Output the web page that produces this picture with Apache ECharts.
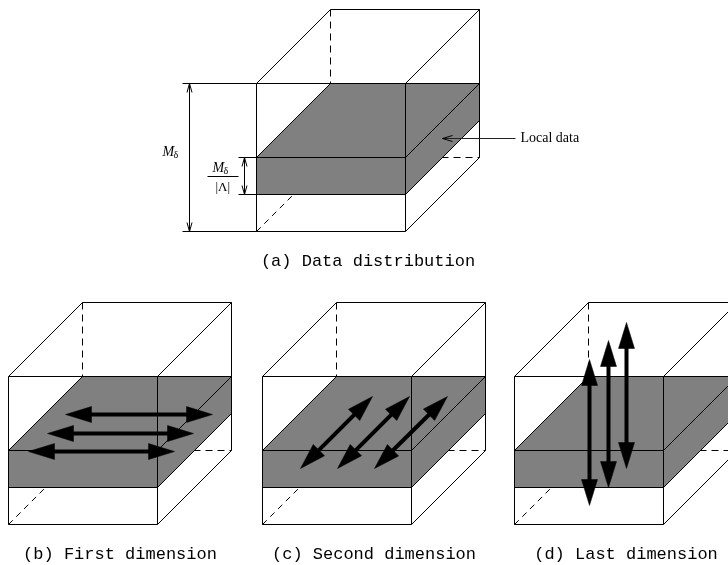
<!DOCTYPE html>
<html>
<head>
<meta charset="utf-8">
<script src="https://cdn.jsdelivr.net/npm/echarts@6/dist/echarts.min.js"></script>
<style>html,body{margin:0;padding:0;background:#fff}#main{width:728px;height:565px}</style>
</head>
<body>
<div id="main"></div>
<script>
// ---- data ----
const panelLabels = ['(a) Data distribution', '(b) First dimension', '(c) Second dimension', '(d) Last dimension'];
// front-top-left corner of each cube (page units)
const cubeCornersX = [256, 8, 262, 514];
const cubeCornersY = [83, 376, 376, 376];
// double-headed arrows [x1, y1, x2, y2]
const arrowsFirst = [[65, 414, 212, 414], [47, 433, 193, 433], [28, 451, 174, 451]];
const arrowsSecond = [[300, 468, 372, 396], [337, 468, 409, 396], [374, 468, 447, 396]];
const arrowsLast = [[589, 505, 589, 359], [608, 487, 608, 340], [626, 468, 626, 322]];
// dimension arrows (open heads, both ends) [x1,y1,x2,y2]
const dimArrows = [[189, 83, 189, 231], [244, 157, 244, 194]];
const extLines = [[182, 83, 256, 83], [182, 231, 256, 231], [238, 157, 256, 157], [238, 194, 256, 194]];
const pointer = [[515, 138, 442, 138]];

// ---- geometry constants ----
const W = 149, H = 148, D = 74, T = 37;
const GRAY = '#808080';

const cubeData = cubeCornersX.map((x, i) => [x, cubeCornersY[i], i]);
const thickArrows = arrowsFirst.concat(arrowsSecond, arrowsLast);

function mk(api) {
  return function (x, y) { const p = api.coord([x, y]); return [p[0] + 0.5, p[1] + 0.5]; };
}
function ln(P, a, b, c, d, style) {
  const p = P(a, b), q = P(c, d);
  return { type: 'line', shape: { x1: p[0], y1: p[1], x2: q[0], y2: q[1] }, style: Object.assign({ stroke: '#000', lineWidth: 1, fill: null }, style || {}) };
}
function poly(P, pts, style) {
  return { type: 'polygon', shape: { points: pts.map(p => P(p[0], p[1])) }, style: Object.assign({ stroke: '#000', lineWidth: 1 }, style || {}) };
}

function renderCube(params, api) {
  const P = mk(api);
  const fx = api.value(0), fy = api.value(1), idx = api.value(2);
  const dash = { lineDash: [7, 5] };
  const ch = [];
  ch.push(ln(P, fx + D, fy - D, fx + D, fy, dash));
  ch.push(ln(P, fx + W, fy + H - D, fx + W + D, fy + H - D, dash));
  ch.push(ln(P, fx, fy + H, fx + D, fy + H - D, { lineDash: [6, 5] }));
  // slab
  ch.push(poly(P, [[fx, fy + D], [fx + W, fy + D], [fx + W + D, fy], [fx + D, fy]], { fill: GRAY }));
  ch.push(poly(P, [[fx, fy + D], [fx + W, fy + D], [fx + W, fy + D + T], [fx, fy + D + T]], { fill: GRAY }));
  ch.push(poly(P, [[fx + W, fy + D], [fx + W + D, fy], [fx + W + D, fy + T], [fx + W, fy + D + T]], { fill: GRAY }));
  // solid edges
  ch.push(poly(P, [[fx, fy], [fx + W, fy], [fx + W, fy + H], [fx, fy + H]], { fill: null }));
  ch.push(ln(P, fx + D, fy - D, fx + W + D, fy - D));
  ch.push(ln(P, fx, fy, fx + D, fy - D));
  ch.push(ln(P, fx + W, fy, fx + W + D, fy - D));
  ch.push(ln(P, fx + W + D, fy - D, fx + W + D, fy + H - D));
  ch.push(ln(P, fx + W, fy + H, fx + W + D, fy + H - D));
  // caption
  const c = P(fx + (W + D) / 2, fy + H + 30);
  ch.push({ type: 'text', x: c[0], y: c[1], style: { text: panelLabels[idx], fill: '#000', fontSize: 17, fontFamily: 'Liberation Mono', align: 'center', verticalAlign: 'middle' } });
  return { type: 'group', children: ch };
}

function renderThick(params, api) {
  const P = mk(api);
  const x1 = api.value(0), y1 = api.value(1), x2 = api.value(2), y2 = api.value(3);
  const len = Math.hypot(x2 - x1, y2 - y1);
  const ux = (x2 - x1) / len, uy = (y2 - y1) / len, nx = -uy, ny = ux;
  const L = 26, HW = 8;
  const ch = [];
  ch.push(ln(P, x1 + ux * L * 0.7, y1 + uy * L * 0.7, x2 - ux * L * 0.7, y2 - uy * L * 0.7, { lineWidth: 4 }));
  ch.push(poly(P, [[x1, y1], [x1 + ux * L + nx * HW, y1 + uy * L + ny * HW], [x1 + ux * L - nx * HW, y1 + uy * L - ny * HW]], { fill: '#000', lineWidth: 0.5 }));
  ch.push(poly(P, [[x2, y2], [x2 - ux * L + nx * HW, y2 - uy * L + ny * HW], [x2 - ux * L - nx * HW, y2 - uy * L - ny * HW]], { fill: '#000', lineWidth: 0.5 }));
  return { type: 'group', children: ch };
}

function openHead(P, tx, ty, ux, uy, L, HW) {
  const nx = -uy, ny = ux;
  return { type: 'polyline', shape: { points: [P(tx - ux * L + nx * HW, ty - uy * L + ny * HW), P(tx, ty), P(tx - ux * L - nx * HW, ty - uy * L - ny * HW)] }, style: { stroke: '#000', lineWidth: 1, fill: null } };
}

function renderDim(params, api) {
  const P = mk(api);
  const x1 = api.value(0), y1 = api.value(1), x2 = api.value(2), y2 = api.value(3);
  const len = Math.hypot(x2 - x1, y2 - y1);
  const ux = (x2 - x1) / len, uy = (y2 - y1) / len;
  return { type: 'group', children: [ln(P, x1, y1, x2, y2), openHead(P, x2, y2, ux, uy, 9, 2.5), openHead(P, x1, y1, -ux, -uy, 9, 2.5)] };
}
function renderExt(params, api) {
  const P = mk(api);
  return ln(P, api.value(0), api.value(1), api.value(2), api.value(3));
}
function renderPointer(params, api) {
  const P = mk(api);
  const x1 = api.value(0), y1 = api.value(1), x2 = api.value(2), y2 = api.value(3);
  const len = Math.hypot(x2 - x1, y2 - y1);
  const ux = (x2 - x1) / len, uy = (y2 - y1) / len;
  const c = P(520, 138);
  return { type: 'group', children: [
    ln(P, x1, y1, x2, y2, { stroke: '#222' }),
    openHead(P, x2, y2, ux, uy, 10, 3),
    { type: 'text', x: c[0], y: c[1], style: { text: 'Local data', fill: '#000', fontSize: 14, fontFamily: 'Liberation Serif', align: 'left', verticalAlign: 'middle' } }
  ] };
}
function renderMath(params, api) {
  const P = mk(api);
  const t = (x, y, s, size, italic) => { const p = P(x, y); return { type: 'text', x: p[0], y: p[1], style: { text: s, fill: '#000', fontSize: size, fontFamily: 'Liberation Serif', fontStyle: italic ? 'italic' : 'normal', align: 'left', verticalAlign: 'middle' } }; };
  return { type: 'group', children: [
    t(162, 152, 'M', 14, true), t(173, 155, 'δ', 10, false),
    t(212, 168, 'M', 14, true), t(223, 171, 'δ', 10, false),
    ln(P, 207, 176, 238, 176),
    t(215, 187, '|Λ|', 13, false)
  ] };
}

const chart = echarts.init(document.getElementById('main'), null, { renderer: 'canvas' });
chart.setOption({
  animation: false,
  backgroundColor: '#fff',
  grid: { left: 0, right: 0, top: 0, bottom: 0 },
  xAxis: { type: 'value', min: 0, max: 728, show: false },
  yAxis: { type: 'value', min: 0, max: 565, inverse: true, show: false },
  series: [
    { type: 'custom', renderItem: renderCube, data: cubeData, clip: false, silent: true },
    { type: 'custom', renderItem: renderExt, data: extLines, silent: true },
    { type: 'custom', renderItem: renderDim, data: dimArrows, silent: true },
    { type: 'custom', renderItem: renderPointer, data: pointer, silent: true },
    { type: 'custom', renderItem: renderMath, data: [[0]], silent: true },
    { type: 'custom', renderItem: renderThick, data: thickArrows, clip: false, silent: true }
  ]
});
</script>
</body>
</html>
